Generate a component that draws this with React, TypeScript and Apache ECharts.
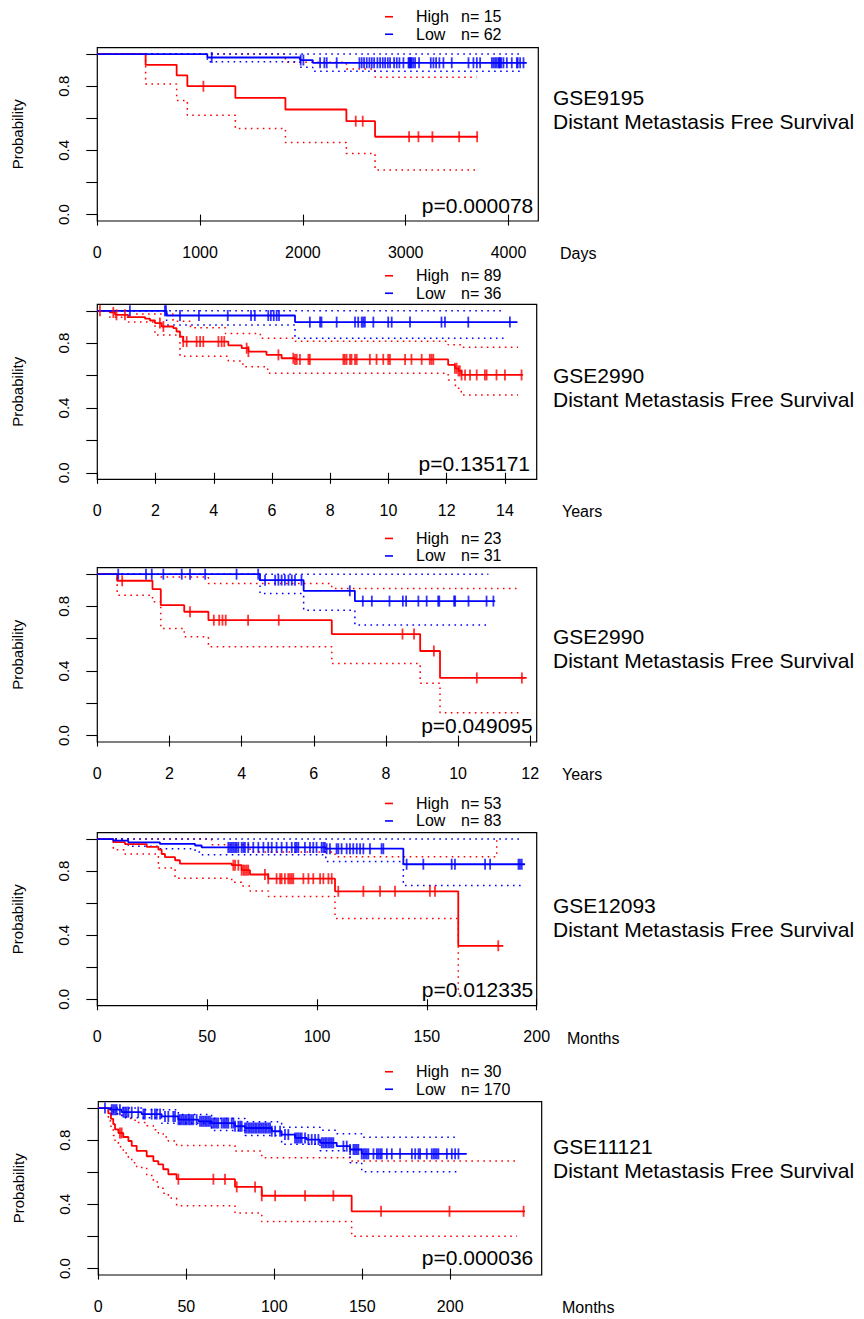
import React, { useEffect, useRef } from 'react';
import * as echarts from 'echarts';

const FONT = '"Liberation Sans", Arial, Helvetica, sans-serif';
const RED = '#ff0000';
const BLUE = '#0000ff';

// ---------------- shared tick labels ----------------
const yTickValues = [0, 0.2, 0.4, 0.6, 0.8, 1.0];
const yLabelValues = [0, 0.4, 0.8];

// ---------------- Panel 1 : GSE9195 (days) ----------------
const p1Dataset = 'GSE9195';
const p1Endpoint = 'Distant Metastasis Free Survival';
const p1Unit = 'Days';
const p1PValue = 'p=0.000078';
const p1XTicks = [0, 1000, 2000, 3000, 4000];
const p1XMax = 4290;
const p1HighN = 15;
const p1LowN = 62;
const p1HighT = [0, 470, 772, 876, 1343, 1830, 2423, 2702];
const p1HighS = [1, 0.933, 0.867, 0.8, 0.727, 0.655, 0.582, 0.485];
const p1HighEnd = 3700;
const p1HighUpT = [0, 1830, 2423, 2702];
const p1HighUpS = [1, 0.95, 0.907, 0.856];
const p1HighLoT = [0, 470, 772, 876, 1343, 1830, 2423, 2702];
const p1HighLoS = [1, 0.814, 0.711, 0.619, 0.536, 0.449, 0.381, 0.278];
const p1HighCiEnd = 3690;
const p1HighCens = [1032, 2514, 2582, 3033, 3124, 3260, 3520, 3695];
const p1LowT = [0, 1070, 1972, 2096];
const p1LowS = [1, 0.979, 0.963, 0.946];
const p1LowEnd = 4178;
const p1LowUpT = [0];
const p1LowUpS = [1];
const p1LowLoT = [0, 1070, 1972, 2096];
const p1LowLoS = [1, 0.952, 0.918, 0.893];
const p1LowCiEnd = 4120;
const p1LowCens = [1113, 1979, 2005, 2167, 2209, 2232, 2329, 2550, 2572, 2595, 2621, 2647, 2670, 2693, 2725, 2751, 2777, 2800, 2826, 2848, 2887, 2913, 2939, 2978, 3027, 3035, 3043, 3050, 3059, 3075, 3092, 3130, 3244, 3270, 3296, 3328, 3367, 3448, 3611, 3659, 3692, 3724, 3838, 3854, 3870, 3886, 3903, 3910, 3919, 3930, 3951, 3984, 4032, 4081, 4090, 4113, 4146];

// ---------------- Panel 2 : GSE2990 (years) ----------------
const p2Dataset = 'GSE2990';
const p2Endpoint = 'Distant Metastasis Free Survival';
const p2Unit = 'Years';
const p2PValue = 'p=0.135171';
const p2XTicks = [0, 2, 4, 6, 8, 10, 12, 14];
const p2XMax = 15.09;
const p2HighN = 89;
const p2LowN = 36;
const p2HighT = [0, 0.43, 0.61, 1.06, 1.64, 1.81, 1.98, 2.21, 2.61, 2.72, 2.84, 2.95, 4.5, 4.96, 5.19, 5.81, 6.33, 6.79, 12.05, 12.28, 12.4, 12.51];
const p2HighS = [1, 0.99, 0.975, 0.961, 0.951, 0.94, 0.924, 0.903, 0.893, 0.872, 0.841, 0.81, 0.786, 0.769, 0.748, 0.728, 0.707, 0.7, 0.666, 0.645, 0.629, 0.604];
const p2HighEnd = 14.62;
const p2HighUpT = [0, 1.3, 2.6, 3.2, 4.4, 5.6, 6.8, 12.05, 12.5];
const p2HighUpS = [1, 0.98, 0.935, 0.895, 0.86, 0.83, 0.812, 0.79, 0.775];
const p2HighLoT = [0, 0.43, 1.06, 1.98, 2.84, 4.5, 5.0, 5.85, 12.05, 12.3, 12.5];
const p2HighLoS = [1, 0.96, 0.93, 0.85, 0.72, 0.69, 0.655, 0.615, 0.573, 0.522, 0.48];
const p2HighCiEnd = 14.45;
const p2HighCens = [0.09, 0.55, 0.66, 0.95, 2.15, 2.27, 2.95, 3.07, 3.41, 3.53, 3.64, 4.16, 4.27, 4.36, 5.13, 5.19, 6.22, 6.73, 6.79, 6.85, 6.96, 7.25, 7.3, 8.45, 8.5, 8.56, 8.68, 8.73, 8.85, 8.91, 9.36, 9.59, 9.82, 9.99, 10.05, 10.57, 10.79, 11.14, 11.42, 11.48, 11.54, 12.28, 12.34, 12.4, 12.45, 12.51, 12.63, 12.8, 13.03, 13.31, 13.37, 13.71, 14.0, 14.57];
const p2LowT = [0, 2.38, 6.79];
const p2LowS = [1, 0.971, 0.93];
const p2LowEnd = 14.43;
const p2LowUpT = [0];
const p2LowUpS = [1];
const p2LowLoT = [0, 2.38, 6.79];
const p2LowLoS = [1, 0.913, 0.831];
const p2LowCiEnd = 14.0;
const p2LowCens = [1.12, 2.32, 2.36, 2.84, 3.49, 4.48, 5.28, 5.41, 5.87, 5.96, 6.06, 6.16, 6.24, 7.3, 7.65, 7.7, 8.22, 8.85, 8.96, 9.08, 9.13, 9.19, 9.48, 9.99, 10.11, 10.74, 11.82, 11.94, 12.74, 14.17];

// ---------------- Panel 3 : GSE2990 (years) ----------------
const p3Dataset = 'GSE2990';
const p3Endpoint = 'Distant Metastasis Free Survival';
const p3Unit = 'Years';
const p3PValue = 'p=0.049095';
const p3XTicks = [0, 2, 4, 6, 8, 10, 12];
const p3XMax = 12.18;
const p3HighN = 23;
const p3LowN = 31;
const p3HighT = [0, 0.55, 1.53, 1.76, 2.41, 3.08, 6.5, 8.95, 9.5];
const p3HighS = [1, 0.959, 0.907, 0.808, 0.767, 0.715, 0.629, 0.524, 0.357];
const p3HighEnd = 11.9;
const p3HighUpT = [0, 1.76, 3.08, 6.5];
const p3HighUpS = [1, 0.983, 0.942, 0.911];
const p3HighLoT = [0, 0.55, 1.53, 1.76, 2.41, 3.08, 6.5, 8.95, 9.5];
const p3HighLoS = [1, 0.87, 0.829, 0.664, 0.612, 0.55, 0.447, 0.324, 0.142];
const p3HighCiEnd = 11.7;
const p3HighCens = [0.69, 2.57, 3.23, 3.38, 3.47, 3.56, 4.18, 5.03, 8.46, 8.78, 9.33, 10.52, 11.77];
const p3LowT = [0, 4.51, 5.72, 7.14];
const p3LowS = [1, 0.963, 0.897, 0.833];
const p3LowEnd = 11.03;
const p3LowUpT = [0];
const p3LowUpS = [1];
const p3LowLoT = [0, 4.51, 5.72, 7.14];
const p3LowLoS = [1, 0.88, 0.777, 0.685];
const p3LowCiEnd = 10.84;
const p3LowCens = [0.58, 1.35, 1.51, 1.83, 2.34, 2.57, 2.99, 3.86, 4.46, 4.65, 4.93, 5.02, 5.11, 5.2, 5.3, 5.39, 5.48, 5.66, 7.0, 7.36, 7.61, 8.1, 8.47, 8.56, 8.9, 9.13, 9.45, 9.48, 9.89, 9.92, 10.29, 10.79, 10.98];

// ---------------- Panel 4 : GSE12093 (months) ----------------
const p4Dataset = 'GSE12093';
const p4Endpoint = 'Distant Metastasis Free Survival';
const p4Unit = 'Months';
const p4PValue = 'p=0.012335';
const p4XTicks = [0, 50, 100, 150, 200];
const p4XMax = 200;
const p4HighN = 53;
const p4LowN = 83;
const p4HighT = [0, 7.3, 12.6, 22.5, 27.8, 29.3, 30.8, 35.4, 37.6, 61.2, 65.7, 69.5, 77.8, 108.2, 164.3];
const p4HighS = [1, 0.981, 0.969, 0.951, 0.934, 0.907, 0.887, 0.868, 0.847, 0.837, 0.806, 0.779, 0.753, 0.674, 0.334];
const p4HighEnd = 184.8;
const p4HighUpT = [0, 52, 69.5, 108.2, 181.8];
const p4HighUpS = [1, 0.965, 0.92, 0.89, 0.99];
const p4HighUpEnd = 182.5;
const p4HighLoT = [0, 7.3, 12.6, 27.8, 35.4, 61.2, 65.7, 69.5, 77.8, 108.2, 164.3];
const p4HighLoS = [1, 0.934, 0.907, 0.82, 0.755, 0.73, 0.707, 0.676, 0.641, 0.505, 0.035];
const p4HighLoEnd = 165;
const p4HighCens = [61.9, 62.7, 64.2, 65.7, 66.5, 67.2, 68.0, 68.7, 76.3, 77.8, 81.6, 83.2, 83.9, 85.4, 86.9, 87.7, 88.5, 89.2, 93.8, 96.1, 98.3, 101.4, 102.9, 105.2, 106.7, 109.7, 121.1, 128.7, 135.5, 151.4, 153.7, 182.5];
const p4LowT = [0, 7.3, 14.1, 28.5, 44.5, 47.5, 104, 139.3];
const p4LowS = [1, 0.99, 0.98, 0.97, 0.96, 0.948, 0.94, 0.843];
const p4LowEnd = 194.7;
const p4LowUpT = [0];
const p4LowUpS = [1];
const p4LowLoT = [0, 14.1, 28.5, 44.5, 47.5, 104, 139.3];
const p4LowLoS = [1, 0.955, 0.94, 0.92, 0.903, 0.86, 0.711];
const p4LowCiEnd = 193.2;
const p4LowCens = [59.6, 60.4, 61.2, 61.9, 62.7, 63.4, 64.2, 65.7, 66.5, 67.2, 68.7, 71.0, 73.3, 75.6, 77.8, 79.4, 81.6, 83.9, 86.2, 88.5, 90.0, 90.7, 91.5, 94.5, 96.8, 98.3, 99.8, 102.1, 102.9, 103.6, 104.4, 105.9, 108.9, 109.7, 111.2, 113.5, 115.0, 116.5, 118.1, 119.6, 121.1, 124.1, 129.4, 130.2, 140.8, 148.4, 161.3, 162.8, 176.5, 178.8, 191.7, 192.4, 193.2];

// ---------------- Panel 5 : GSE11121 (months) ----------------
const p5Dataset = 'GSE11121';
const p5Endpoint = 'Distant Metastasis Free Survival';
const p5Unit = 'Months';
const p5PValue = 'p=0.000036';
const p5XTicks = [0, 50, 100, 150, 200];
const p5XMax = 252;
const p5HighN = 30;
const p5LowN = 170;
const p5HighT = [0, 5.7, 7.2, 8.5, 9.5, 11.4, 14.2, 17.1, 19.0, 21.8, 27.5, 31.3, 34.1, 36.9, 39.8, 44.5, 77.7, 92.9, 144];
const p5HighS = [1, 0.967, 0.933, 0.9, 0.867, 0.845, 0.82, 0.795, 0.765, 0.733, 0.7, 0.67, 0.649, 0.619, 0.588, 0.557, 0.509, 0.454, 0.357];
const p5HighEnd = 242.5;
const p5HighUpS = [1, 1, 0.99, 0.975, 0.965, 0.955, 0.945, 0.935, 0.925, 0.91, 0.89, 0.865, 0.845, 0.82, 0.795, 0.767, 0.732, 0.691, 0.67];
const p5HighLoS = [1, 0.92, 0.87, 0.83, 0.79, 0.76, 0.72, 0.69, 0.66, 0.63, 0.58, 0.54, 0.5, 0.47, 0.44, 0.392, 0.346, 0.293, 0.202];
const p5HighCiEnd = 238;
const p5HighCens = [12.3, 13.3, 45.5, 65.4, 72.0, 78.7, 89.1, 92.9, 100.5, 117.5, 133.6, 160.7, 199.6, 241.7];
const p5LowT = [0, 6.6, 13.3, 24.6, 36.0, 45.5, 56.9, 64.4, 77.7, 83.4, 98.6, 104.2, 111.8, 118.5, 126, 135.5, 143.1, 149.7];
const p5LowS = [1, 0.99, 0.975, 0.963, 0.948, 0.928, 0.918, 0.907, 0.887, 0.876, 0.856, 0.835, 0.814, 0.804, 0.784, 0.763, 0.742, 0.715];
const p5LowEnd = 209.4;
const p5LowUpT = [0, 24.6, 45.5, 64.4, 83.4, 104.2, 126, 135.5, 149.7];
const p5LowUpS = [1, 0.99, 0.96, 0.935, 0.915, 0.88, 0.862, 0.84, 0.819];
const p5LowLoT = [0, 6.6, 13.3, 36.0, 64.4, 83.4, 104.2, 126, 143.1, 149.7];
const p5LowLoS = [1, 0.965, 0.94, 0.905, 0.86, 0.83, 0.775, 0.735, 0.66, 0.604];
const p5LowCiEnd = 203.8;
const p5LowCens = [3.8, 7.6, 8.5, 9.5, 10.4, 12.3, 14.2, 15.2, 16.1, 17.1, 19.0, 22.7, 25.6, 26.5, 30.3, 32.2, 33.2, 35.1, 37.9, 39.8, 42.6, 43.6, 45.5, 46.4, 47.4, 48.3, 49.3, 50.2, 51.2, 52.1, 53.1, 54.0, 55.9, 57.8, 58.8, 59.7, 60.7, 61.6, 62.5, 63.5, 64.4, 65.4, 66.3, 67.3, 68.2, 70.1, 71.1, 72.0, 73.0, 73.9, 75.8, 76.8, 77.7, 79.6, 80.6, 81.5, 83.4, 84.3, 85.3, 86.2, 87.2, 88.1, 89.1, 90.0, 91.0, 91.9, 92.9, 93.8, 94.8, 95.7, 96.7, 97.6, 98.6, 100.5, 103.3, 106.1, 108.0, 111.8, 112.8, 113.7, 114.7, 115.6, 117.5, 119.4, 121.3, 123.2, 125.1, 127.0, 127.9, 128.9, 129.8, 130.8, 131.7, 132.7, 133.6, 139.3, 141.2, 143.1, 145.0, 145.9, 146.9, 147.8, 149.7, 150.7, 151.6, 152.6, 153.5, 156.4, 158.3, 159.2, 160.2, 161.1, 164.0, 166.8, 171.5, 178.2, 180.1, 182.0, 182.9, 186.7, 189.5, 190.5, 191.4, 192.4, 193.3, 198.1, 200.9, 202.8, 204.7];

// ---------------- assemble per-panel data ----------------
type Curve = { T: number[]; S: number[]; end: number; upT: number[]; upS: number[]; upEnd: number; loT: number[]; loS: number[]; loEnd: number; cens: number[]; n: number };
type PanelData = { dataset: string; endpoint: string; unit: string; p: string; ticks: number[]; xMax: number; high: Curve; low: Curve };

const panelData: PanelData[] = [
  {
    dataset: p1Dataset, endpoint: p1Endpoint, unit: p1Unit, p: p1PValue, ticks: p1XTicks, xMax: p1XMax,
    high: { T: p1HighT, S: p1HighS, end: p1HighEnd, upT: p1HighUpT, upS: p1HighUpS, upEnd: p1HighCiEnd, loT: p1HighLoT, loS: p1HighLoS, loEnd: p1HighCiEnd, cens: p1HighCens, n: p1HighN },
    low: { T: p1LowT, S: p1LowS, end: p1LowEnd, upT: p1LowUpT, upS: p1LowUpS, upEnd: p1LowCiEnd, loT: p1LowLoT, loS: p1LowLoS, loEnd: p1LowCiEnd, cens: p1LowCens, n: p1LowN },
  },
  {
    dataset: p2Dataset, endpoint: p2Endpoint, unit: p2Unit, p: p2PValue, ticks: p2XTicks, xMax: p2XMax,
    high: { T: p2HighT, S: p2HighS, end: p2HighEnd, upT: p2HighUpT, upS: p2HighUpS, upEnd: p2HighCiEnd, loT: p2HighLoT, loS: p2HighLoS, loEnd: p2HighCiEnd, cens: p2HighCens, n: p2HighN },
    low: { T: p2LowT, S: p2LowS, end: p2LowEnd, upT: p2LowUpT, upS: p2LowUpS, upEnd: p2LowCiEnd, loT: p2LowLoT, loS: p2LowLoS, loEnd: p2LowCiEnd, cens: p2LowCens, n: p2LowN },
  },
  {
    dataset: p3Dataset, endpoint: p3Endpoint, unit: p3Unit, p: p3PValue, ticks: p3XTicks, xMax: p3XMax,
    high: { T: p3HighT, S: p3HighS, end: p3HighEnd, upT: p3HighUpT, upS: p3HighUpS, upEnd: p3HighCiEnd, loT: p3HighLoT, loS: p3HighLoS, loEnd: p3HighCiEnd, cens: p3HighCens, n: p3HighN },
    low: { T: p3LowT, S: p3LowS, end: p3LowEnd, upT: p3LowUpT, upS: p3LowUpS, upEnd: p3LowCiEnd, loT: p3LowLoT, loS: p3LowLoS, loEnd: p3LowCiEnd, cens: p3LowCens, n: p3LowN },
  },
  {
    dataset: p4Dataset, endpoint: p4Endpoint, unit: p4Unit, p: p4PValue, ticks: p4XTicks, xMax: p4XMax,
    high: { T: p4HighT, S: p4HighS, end: p4HighEnd, upT: p4HighUpT, upS: p4HighUpS, upEnd: p4HighUpEnd, loT: p4HighLoT, loS: p4HighLoS, loEnd: p4HighLoEnd, cens: p4HighCens, n: p4HighN },
    low: { T: p4LowT, S: p4LowS, end: p4LowEnd, upT: p4LowUpT, upS: p4LowUpS, upEnd: p4LowCiEnd, loT: p4LowLoT, loS: p4LowLoS, loEnd: p4LowCiEnd, cens: p4LowCens, n: p4LowN },
  },
  {
    dataset: p5Dataset, endpoint: p5Endpoint, unit: p5Unit, p: p5PValue, ticks: p5XTicks, xMax: p5XMax,
    high: { T: p5HighT, S: p5HighS, end: p5HighEnd, upT: p5HighT, upS: p5HighUpS, upEnd: p5HighCiEnd, loT: p5HighT, loS: p5HighLoS, loEnd: p5HighCiEnd, cens: p5HighCens, n: p5HighN },
    low: { T: p5LowT, S: p5LowS, end: p5LowEnd, upT: p5LowUpT, upS: p5LowUpS, upEnd: p5LowCiEnd, loT: p5LowLoT, loS: p5LowLoS, loEnd: p5LowCiEnd, cens: p5LowCens, n: p5LowN },
  },
];

// ---------------- layout (pixels) ----------------
const layout = [
  { left: 97.3, top: 47.7, right: 538.3, bottom: 221, legendMid: 17.5, titleMid: 97, pY: 205.7, pX: 533.3, nameGap: 21.7 },
  { left: 97.3, top: 304.3, right: 536.7, bottom: 479.3, legendMid: 276.5, titleMid: 375, pY: 463.3, pX: 530, nameGap: 25.3 },
  { left: 97.3, top: 567.7, right: 536.7, bottom: 742, legendMid: 539.2, titleMid: 636, pY: 725.7, pX: 532.7, nameGap: 25.3 },
  { left: 97.3, top: 832.7, right: 536.7, bottom: 1005.7, legendMid: 804.2, titleMid: 905, pY: 989, pX: 533.3, nameGap: 30.3 },
  { left: 98.3, top: 1101.7, right: 541.7, bottom: 1275, legendMid: 1072.5, titleMid: 1146, pY: 1257.3, pX: 533.3, nameGap: 20.3 },
];

function stepData(T: number[], S: number[], end: number) {
  const d = T.map((t, i) => [t, S[i]]);
  d.push([end, S[S.length - 1]]);
  return d;
}
function survAt(T: number[], S: number[], t: number) {
  let v = S[0];
  for (let i = 0; i < T.length; i++) if (T[i] <= t) v = S[i];
  return v;
}

function buildOption() {
  const grid: any[] = [];
  const xAxis: any[] = [];
  const yAxis: any[] = [];
  const series: any[] = [];
  const legend: any[] = [];
  const title: any[] = [];
  const graphic: any[] = [];

  panelData.forEach((pd, i) => {
    const L = layout[i];
    grid.push({
      left: L.left, top: L.top, width: L.right - L.left, height: L.bottom - L.top,
      show: true, borderColor: '#000', borderWidth: 1.2, backgroundColor: 'transparent',
      containLabel: false, outerBoundsMode: 'none',
    });
    xAxis.push({
      type: 'value', gridIndex: i, min: 0, max: pd.xMax,
      axisLine: { show: false }, splitLine: { show: false },
      axisTick: { show: true, customValues: pd.ticks, length: 11, lineStyle: { color: '#000', width: 1.1 } },
      axisLabel: {
        customValues: pd.ticks, margin: 23, fontSize: 16, color: '#000', fontFamily: FONT,
        formatter: (v: number) => String(v),
      },
      name: pd.unit, nameLocation: 'end', nameGap: L.nameGap,
      nameTextStyle: { fontSize: 16, color: '#000', fontFamily: FONT, align: 'left', verticalAlign: 'top', padding: [31, 0, 0, 0] },
    });
    yAxis.push({
      type: 'value', gridIndex: i, min: -0.04, max: 1.04,
      axisLine: { show: false }, splitLine: { show: false },
      axisTick: { show: true, customValues: yTickValues, length: 11, lineStyle: { color: '#000', width: 1.1 } },
      axisLabel: {
        customValues: yLabelValues, rotate: 90, margin: 26, fontSize: 15, color: '#000', fontFamily: FONT,
        formatter: (v: number) => v.toFixed(1),
      },
      name: 'Probability', nameLocation: 'middle', nameRotate: 90, nameGap: 72,
      nameTextStyle: { fontSize: 15, color: '#000', fontFamily: FONT },
    });

    const groups = [
      { key: 'High', c: pd.high, color: RED },
      { key: 'Low', c: pd.low, color: BLUE },
    ];
    groups.forEach(g => {
      const ciStyle = { color: g.color, width: 1.5, type: [1.6, 4.4] };
      series.push({
        type: 'line', name: `${g.key} upper ${i}`, xAxisIndex: i, yAxisIndex: i, step: 'end', symbol: 'none',
        silent: true, z: 2, lineStyle: ciStyle, itemStyle: { color: g.color },
        data: stepData(g.c.upT, g.c.upS, g.c.upEnd),
      });
      series.push({
        type: 'line', name: `${g.key} lower ${i}`, xAxisIndex: i, yAxisIndex: i, step: 'end', symbol: 'none',
        silent: true, z: 2, lineStyle: ciStyle, itemStyle: { color: g.color },
        data: stepData(g.c.loT, g.c.loS, g.c.loEnd),
      });
    });
    groups.forEach(g => {
      series.push({
        type: 'line', name: `${g.key}|n= ${g.c.n}|${i}`, xAxisIndex: i, yAxisIndex: i, step: 'end', symbol: 'none',
        z: 3, lineStyle: { color: g.color, width: 1.8 }, itemStyle: { color: g.color },
        data: stepData(g.c.T, g.c.S, g.c.end),
      });
    });
    groups.forEach(g => {
      series.push({
        type: 'scatter', name: `${g.key} censored ${i}`, xAxisIndex: i, yAxisIndex: i,
        symbol: 'rect', symbolSize: [1.8, 11], z: 4, itemStyle: { color: g.color },
        data: g.c.cens.map(t => [t, survAt(g.c.T, g.c.S, t)]),
      });
    });

    legend.push({
      orient: 'vertical', left: 385, top: L.legendMid - 8.75, itemGap: 1.5, padding: 0,
      itemWidth: 8, itemHeight: 1.6, icon: 'rect', selectedMode: false,
      data: groups.map(g => `${g.key}|n= ${g.c.n}|${i}`),
      formatter: (name: string) => {
        const parts = name.split('|');
        return `{s|\u00a0}{a|${parts[0]}}{b|${parts[1]}}`;
      },
      textStyle: {
        fontFamily: FONT, fontSize: 16, color: '#000',
        rich: {
          s: { width: 18, fontSize: 16, lineHeight: 16, fontFamily: FONT },
          a: { width: 45, fontSize: 16, lineHeight: 16, fontFamily: FONT, color: '#000' },
          b: { fontSize: 16, lineHeight: 16, fontFamily: FONT, color: '#000' },
        },
      },
    });

    title.push({
      text: pd.dataset, subtext: pd.endpoint, left: 553, top: L.titleMid - 10.5, padding: 0, itemGap: 3,
      textStyle: { fontFamily: FONT, fontSize: 21, fontWeight: 'normal', color: '#000', lineHeight: 21 },
      subtextStyle: { fontFamily: FONT, fontSize: 21, color: '#000', lineHeight: 21 },
    });

    graphic.push({
      type: 'text', x: L.pX, y: L.pY, z: 10,
      style: { text: pd.p, fill: '#000', fontSize: 21, fontFamily: FONT, align: 'right', verticalAlign: 'middle' },
    });
  });

  return {
    animation: false,
    backgroundColor: '#ffffff',
    textStyle: { fontFamily: FONT },
    grid, xAxis, yAxis, series, legend, title, graphic,
  };
}

export default function App() {
  const ref = useRef<HTMLDivElement>(null);
  useEffect(() => {
    if (!ref.current) return;
    const chart = echarts.init(ref.current, undefined, { renderer: 'svg' });
    chart.setOption(buildOption() as any);
    return () => chart.dispose();
  }, []);
  return (
    <div
      ref={ref}
      style={{ position: 'absolute', left: 0, top: 0, width: 864, height: 1319, background: '#fff' }}
    />
  );
}
